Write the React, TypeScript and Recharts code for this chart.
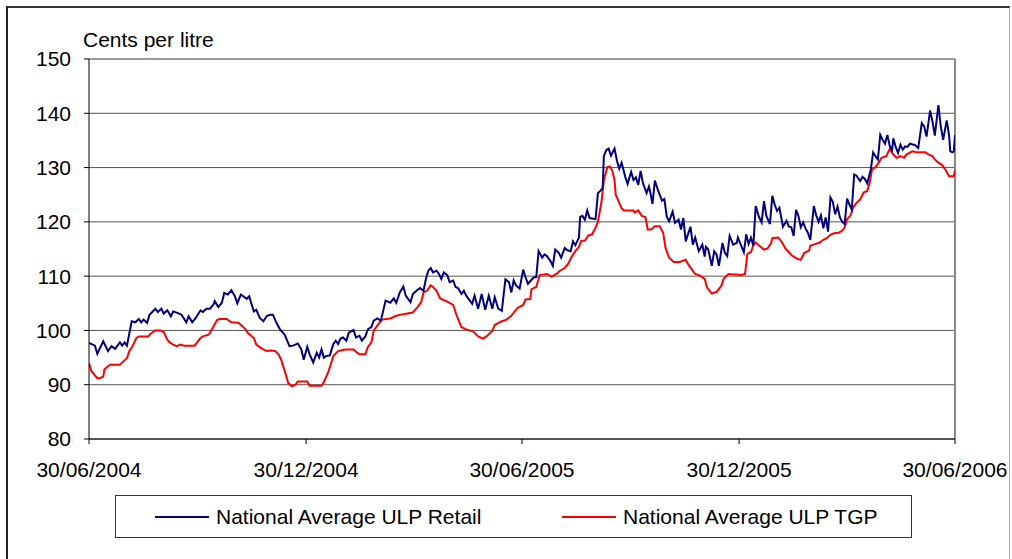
import React from 'react';
import { LineChart, Line, XAxis, YAxis, CartesianGrid, ReferenceLine } from 'recharts';

const tickDays = [0, 183, 365, 548, 730];
const tickLabels = ['30/06/2004', '30/12/2004', '30/06/2005', '30/12/2005', '30/06/2006'];
const yTicks = [80, 90, 100, 110, 120, 130, 140, 150];

const retailDays = [0,5,7,12,16,19,22,26,28,30,32,36,39,42,44,46,49,51,56,58,61,63,66,69,71,75,78,82,84,87,90,94,96,99,102,105,106,109,112,114,117,120,123,125,128,130,133,135,139,141,144,147,150,153,155,158,161,165,169,172,176,179,181,184,186,189,192,194,196,198,200,203,206,208,210,212,214,217,219,223,225,228,230,233,235,238,240,243,246,248,250,252,254,257,259,262,265,267,271,273,277,279,282,284,286,288,290,293,295,297,299,302,304,307,309,311,314,316,318,321,323,325,328,331,334,337,340,342,345,348,351,354,356,358,360,363,366,368,370,375,377,379,382,384,386,389,391,393,396,398,401,403,406,408,410,413,414,416,418,420,422,427,429,431,433,434,436,438,440,443,445,447,449,452,454,457,459,461,463,465,467,470,472,473,475,477,480,483,485,487,489,492,494,497,499,501,503,507,509,511,514,517,519,520,522,525,527,529,531,534,536,538,540,543,546,547,550,552,554,556,558,560,562,564,565,567,569,571,574,576,578,580,582,583,585,588,590,592,594,596,598,600,602,604,606,608,611,613,615,617,619,621,623,625,627,629,631,633,635,637,639,641,643,645,647,650,652,654,656,659,661,663,665,667,669,671,673,675,677,678,680,682,684,686,688,690,692,695,696,699,702,704,706,709,711,713,716,718,720,723,725,726,728,729,730];
const retailValues = [97.7,97.2,95.7,98.0,96.2,97.1,96.6,97.8,97.2,97.8,97.2,101.7,101.5,102.1,101.5,102.0,101.4,102.9,104.0,103.4,104.0,103.1,103.7,102.6,103.5,103.2,102.9,101.5,102.6,101.5,102.3,103.7,103.4,104.0,104.0,104.8,105.4,104.3,105.1,106.9,106.6,107.4,106.3,105.0,106.6,106.3,105.8,106.3,103.5,103.8,102.3,101.7,102.7,102.9,102.9,101.4,100.2,99.2,97.1,97.2,97.6,96.5,94.6,97.0,95.6,94.1,95.9,95.0,96.5,95.0,95.3,95.4,97.5,98.1,97.5,98.5,98.7,98.1,99.6,100.1,98.7,99.0,98.1,98.9,100.2,100.6,101.8,102.2,101.8,103.6,105.5,105.3,105.1,105.9,105.1,107.0,108.1,106.4,105.2,106.7,107.5,107.8,107.3,109.5,111.0,111.5,110.7,111.0,110.4,109.5,110.7,110.2,108.9,109.2,108.0,107.8,106.7,107.3,106.4,105.5,104.9,106.4,104.0,106.7,103.8,106.4,104.0,106.1,104.0,103.6,109.4,108.9,107.0,109.2,108.3,107.7,111.2,109.8,108.6,109.8,109.8,114.6,113.4,114.0,113.7,112.8,111.9,114.9,114.3,113.4,115.2,114.8,114.6,116.4,115.7,117.1,120.9,121.1,120.4,122.1,120.7,120.5,125.3,125.7,126.2,132.1,133.2,133.5,132.2,133.5,131.3,129.8,130.9,128.3,127.0,129.2,127.7,128.2,126.8,129.4,127.1,125.3,126.5,125.6,123.3,127.6,125.6,123.9,124.2,121.0,120.1,121.9,119.8,120.4,118.6,120.7,116.4,119.1,115.8,117.1,114.6,115.8,113.6,115.4,114.9,111.9,114.6,114.0,111.9,116.1,114.3,113.7,117.4,115.8,116.1,117.1,115.5,114.4,117.7,115.9,117.1,115.6,122.9,121.4,120.8,119.9,123.8,121.1,119.6,124.8,123.2,122.0,122.6,121.4,119.1,120.2,119.1,119.0,117.4,122.2,121.1,119.0,119.9,118.8,118.0,116.7,122.9,121.2,120.0,121.2,118.8,120.8,118.2,124.5,123.7,121.4,122.8,120.8,120.0,119.6,124.3,123.2,122.3,128.7,128.5,127.5,128.3,127.9,127.1,129.6,132.8,132.1,131.5,136.0,135.1,134.4,136.0,134.0,133.2,135.4,133.8,132.7,134.2,133.3,133.9,133.8,134.4,134.2,134.2,133.6,138.2,137.6,135.7,140.5,138.5,135.9,141.5,137.6,135.1,138.7,136.0,133.0,132.8,133.0,136.0];

const tgpDays = [0,2,7,9,12,13,16,18,26,29,32,34,36,38,40,42,50,52,56,60,63,66,68,71,74,77,80,89,94,96,101,103,108,110,116,120,126,129,132,134,139,141,146,150,153,157,160,162,165,168,171,174,176,184,186,196,198,200,202,204,206,210,216,223,226,228,233,235,238,240,243,247,254,259,265,273,277,280,282,285,288,290,293,296,302,307,310,314,318,324,328,332,335,340,342,347,352,356,361,366,368,372,373,377,380,386,390,394,397,401,404,407,410,413,415,418,421,424,427,429,432,434,437,439,441,443,444,446,449,451,459,460,463,466,469,471,474,477,481,484,486,489,493,498,503,505,508,511,515,519,521,525,529,533,535,539,550,553,555,558,560,562,565,569,572,575,576,581,584,587,590,592,597,600,603,607,608,612,616,619,622,625,628,632,635,637,639,642,644,647,650,653,656,658,660,663,666,668,672,675,678,681,684,687,689,694,698,705,708,711,713,716,719,722,725,729,730];
const tgpValues = [94.0,92.5,91.2,91.2,91.5,92.8,93.4,93.7,93.7,94.3,94.9,96.2,96.8,97.7,98.6,98.9,98.9,99.4,100.0,100.0,99.7,98.3,97.8,97.4,97.1,97.4,97.2,97.2,98.6,98.9,99.2,100.0,101.9,102.1,102.1,101.5,101.4,100.8,100.2,99.5,98.6,97.4,96.6,96.2,96.3,96.2,95.5,94.6,92.5,90.3,89.7,90.0,90.6,90.6,89.8,89.8,90.5,91.5,92.5,93.9,95.3,96.2,96.5,96.5,95.9,95.6,95.6,96.9,97.8,99.9,100.9,102.0,102.2,102.7,103.0,103.3,104.3,105.2,107.0,107.3,108.3,108.0,107.3,105.9,105.3,104.7,102.7,100.6,100.2,99.8,98.9,98.5,98.9,99.9,101.0,101.6,102.0,102.7,104.1,104.7,105.7,105.8,107.6,108.0,110.2,110.4,109.9,110.4,111.0,111.5,112.3,113.6,114.6,115.4,116.5,116.5,117.5,117.7,118.9,120.0,123.7,127.7,130.1,130.2,129.5,127.7,125.0,124.0,122.5,122.1,122.1,121.7,122.1,121.1,120.9,118.6,118.6,119.2,119.2,118.0,115.2,113.4,112.6,112.6,113.0,112.2,111.3,110.4,110.1,109.5,107.9,106.8,107.1,108.2,109.5,110.4,110.2,110.4,114.1,114.4,115.7,116.2,115.6,114.9,115.1,116.1,117.0,117.1,116.3,115.1,114.4,113.9,113.2,113.0,114.3,114.7,115.6,115.9,116.2,116.7,117.0,117.6,117.9,118.0,118.4,119.0,120.5,121.2,122.6,123.5,124.1,125.4,125.7,127.1,129.6,130.1,131.0,131.8,132.1,133.4,132.4,131.8,132.1,131.8,132.4,133.0,132.8,132.8,132.4,132.1,131.5,130.9,130.5,129.6,128.4,128.4,129.6];

type Row = { day: number; retail?: number; tgp?: number };

function buildTable(): Row[] {
  const map = new Map<number, Row>();
  retailDays.forEach((d, i) => {
    const r = map.get(d) || { day: d };
    r.retail = retailValues[i];
    map.set(d, r);
  });
  tgpDays.forEach((d, i) => {
    const r = map.get(d) || { day: d };
    r.tgp = tgpValues[i];
    map.set(d, r);
  });
  return Array.from(map.values()).sort((a, b) => a.day - b.day);
}

const data = buildTable();

const FONT = '"Liberation Sans", Arial, sans-serif';
const tickStyle = { fontFamily: FONT, fontSize: 21, fill: '#000' };

export default function App() {
  return (
    <div style={{ position: 'absolute', left: 0, top: 0, width: 1012, height: 559, overflow: 'hidden', background: '#fff' }}>
      <div style={{ position: 'absolute', left: 6, top: 6, width: 1004, height: 600, borderLeft: '2px solid #222', borderTop: '2px solid #333', borderRight: '1px solid #aaa', boxSizing: 'border-box' }} />
      <div style={{ position: 'absolute', left: 83, top: 29, fontFamily: FONT, fontSize: 21, lineHeight: '21px', color: '#000', whiteSpace: 'nowrap' }}>
        Cents per litre
      </div>
      <div style={{ position: 'absolute', left: 0, top: 0 }}>
        <LineChart width={1012} height={559} data={data} margin={{ top: 59, right: 57, bottom: 90, left: 0 }}>
          <CartesianGrid vertical={false} stroke="#555" strokeWidth={1} />
          <XAxis
            dataKey="day"
            type="number"
            domain={[0, 730]}
            ticks={tickDays}
            interval={0}
            tickFormatter={(v: number) => tickLabels[tickDays.indexOf(v)] ?? ''}
            height={30}
            tickSize={5}
            tickMargin={18}
            stroke="#000"
            tick={tickStyle}
            allowDataOverflow
          />
          <YAxis
            type="number"
            domain={[80, 150]}
            ticks={yTicks}
            interval={0}
            width={89}
            tickSize={5}
            tickMargin={13}
            stroke="#000"
            tick={tickStyle}
            allowDataOverflow
          />
          <ReferenceLine x={730} stroke="#888" strokeWidth={2} />
          <ReferenceLine y={150} stroke="#888" strokeWidth={1} />
          <Line
            type="linear"
            dataKey="tgp"
            stroke="#ff0000"
            strokeWidth={2}
            dot={false}
            connectNulls
            isAnimationActive={false}
          />
          <Line
            type="linear"
            dataKey="retail"
            stroke="#000080"
            strokeWidth={2}
            dot={false}
            connectNulls
            isAnimationActive={false}
          />
        </LineChart>
      </div>
      <div style={{ position: 'absolute', left: 115, top: 495, width: 797, height: 43, border: '1px solid #333', boxSizing: 'border-box', fontFamily: FONT, fontSize: 21, color: '#000' }}>
        <div style={{ position: 'absolute', left: 39, top: 20, width: 54, height: 2, background: '#000080' }} />
        <div style={{ position: 'absolute', left: 100, top: 0, lineHeight: '41px', whiteSpace: 'nowrap' }}>National Average ULP Retail</div>
        <div style={{ position: 'absolute', left: 446, top: 20, width: 54, height: 2, background: '#ff0000' }} />
        <div style={{ position: 'absolute', left: 507, top: 0, lineHeight: '41px', whiteSpace: 'nowrap' }}>National Average ULP TGP</div>
      </div>
    </div>
  );
}
